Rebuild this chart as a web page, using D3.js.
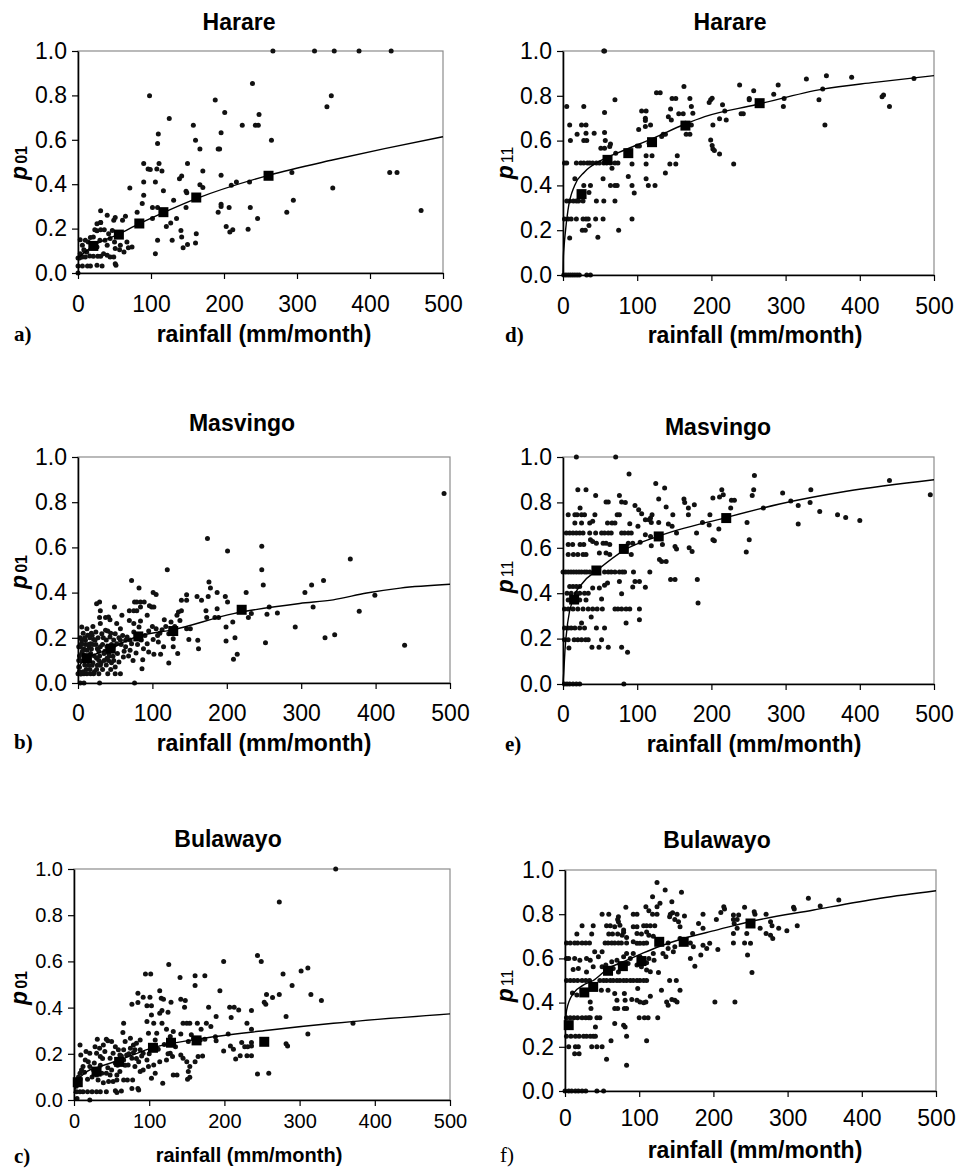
<!DOCTYPE html>
<html>
<head>
<meta charset="utf-8">
<script src="https://cdn.jsdelivr.net/npm/d3@7"></script>
<style>
  body { margin: 0; background: #fff; }
  svg { font-family: "Liberation Sans", Arial, sans-serif; }
  .tick text { fill: #000; }
  .axis path, .axis line { stroke: #000; }
</style>
</head>
<body>
<script>
// ---- data: [rainfall mm/month, probability] ----
var xTicks = [0, 100, 200, 300, 400, 500];
var yTicks = [0, 0.2, 0.4, 0.6, 0.8, 1.0];

// a) Harare p01
var harareP01 = [[267,1],[324,1],[351,1],[385,1],[429,1],[239,.854],[98,.798],[347,.798],[341,.749],[188,.779],[201,.723],[248,.714],[125,.696],[225,.666],[243,.666],[247,.666],[158,.666],[110,.626],[196,.632],[161,.598],[265,.598],[109,.583],[167,.558],[192,.558],[194,.558],[90,.493],[111,.493],[150,.493],[96,.468],[99,.466],[108,.468],[115,.46],[171,.46],[196,.44],[293,.453],[427,.453],[437,.453],[106,.41],[90,.41],[167,.398],[171,.385],[142,.437],[139,.425],[349,.383],[71,.383],[210,.395],[217,.41],[117,.37],[148,.368],[149,.361],[235,.41],[295,.328],[90,.35],[131,.328],[196,.31],[196,.3],[88,.313],[102,.295],[109,.295],[148,.295],[207,.295],[236,.295],[286,.274],[192,.274],[470,.281],[31,.28],[81,.274],[102,.245],[135,.245],[246,.245],[65,.256],[40,.26],[49,.238],[51,.25],[61,.238],[31,.227],[162,.177],[121,.21],[127,.225],[203,.21],[212,.195],[208,.185],[233,.197],[141,.192],[142,.162],[109,.147],[129,.147],[150,.128],[144,.114],[161,.135],[106,.087],[52,.035],[51,.042],[74,.117],[67,.14],[69,.114],[63,.095],[51,.11],[50,.14],[44,.155],[37,.147],[40,.125],[26,.19],[31,.195],[36,.195],[23,.195],[26,.222],[31,.227],[17,.16],[10,.147],[21,.162],[14,.14],[6,.125],[3,.15],[8,.105],[12,.095],[16,.077],[21,.075],[27,.075],[31,.075],[6,.072],[10,.072],[3,.072],[0,.068],[2,.068],[0,.032],[6,.032],[13,.032],[17,.032],[26,.035],[33,.032],[3,.087],[9,.1],[0,0],[19,.125],[26,.117],[30,.147],[42,.177],[47,.192],[58,.177],[35,.087],[44,.072],[49,.072],[40,.08],[58,.125],[57,.105]];
var harareP01Means = [[21,.122],[56,.173],[84,.223],[117,.274],[162,.34],[261,.438]];
var harareP01Fit = [[0,.068],[21,.122],[56,.175],[84,.222],[117,.272],[162,.335],[261,.44],[350,.51],[420,.56],[500,.614]];

// d) Harare p11
var harareP11 = [[55,1],[56,1],[355,.89],[389,.883],[473,.877],[328,.875],[238,.848],[290,.848],[350,.83],[257,.822],[163,.841],[126,.814],[131,.814],[284,.807],[432,.804],[430,.796],[251,.788],[251,.782],[147,.788],[152,.788],[171,.788],[199,.782],[201,.789],[197,.77],[298,.788],[345,.782],[266,.76],[70,.782],[5,.752],[28,.752],[297,.752],[440,.752],[173,.752],[215,.76],[145,.741],[112,.732],[106,.732],[218,.732],[240,.72],[243,.72],[56,.725],[156,.72],[162,.72],[175,.722],[142,.707],[111,.7],[211,.697],[220,.692],[146,.692],[165,.678],[202,.67],[353,.67],[111,.69],[9,.67],[25,.67],[31,.67],[118,.67],[111,.663],[173,.67],[102,.65],[166,.628],[171,.628],[135,.628],[138,.628],[19,.628],[31,.633],[42,.633],[56,.636],[10,.6],[28,.6],[32,.6],[57,.6],[133,.618],[116,.588],[64,.585],[100,.576],[103,.576],[199,.603],[201,.578],[202,.562],[204,.556],[211,.54],[51,.566],[56,.566],[63,.574],[71,.544],[112,.532],[120,.532],[154,.532],[2,.5],[5,.5],[18,.5],[24,.5],[28,.5],[33,.5],[36,.5],[40,.5],[45,.5],[49,.5],[55,.5],[59,.5],[64,.5],[70,.5],[74,.5],[144,.496],[152,.496],[93,.496],[112,.496],[230,.496],[66,.477],[138,.455],[88,.44],[112,.43],[54,.43],[16,.43],[64,.4],[70,.4],[73,.4],[93,.4],[115,.4],[124,.4],[28,.4],[37,.4],[96,.366],[35,.368],[5,.33],[9,.33],[14,.33],[18,.33],[21,.33],[27,.33],[45,.33],[55,.33],[70,.33],[2,.25],[7,.25],[11,.25],[18,.25],[27,.25],[31,.25],[34,.25],[44,.25],[54,.25],[93,.25],[35,.221],[26,.2],[30,.2],[75,.2],[9,.165],[47,.168],[1,0],[4,0],[7,0],[10,0],[13,0],[16,0],[19,0],[22,0],[32,0],[37,0]];
var harareP11Means = [[25,.361],[60,.514],[88,.544],[120,.593],[165,.667],[265,.767]];
var harareP11Fit = [[0,0],[0.5,.08],[1.5,.13],[3,.186],[6.7,.29],[15.7,.4],[29,.46],[52,.513],[83,.558],[119,.607],[164,.673],[191,.707],[260,.76],[350,.83],[420,.86],[500,.89]];

// b) Masvingo p01
var masvingoP01 = [[492,.838],[174,.639],[247,.605],[201,.584],[366,.549],[120,.501],[247,.501],[72,.454],[330,.454],[176,.447],[249,.434],[314,.434],[82,.42],[178,.42],[101,.4],[187,.4],[226,.4],[305,.4],[399,.388],[146,.39],[160,.383],[175,.383],[198,.383],[105,.392],[166,.366],[139,.366],[146,.366],[201,.358],[378,.317],[316,.336],[257,.336],[268,.31],[254,.304],[49,.336],[84,.358],[89,.358],[76,.358],[79,.358],[96,.342],[84,.336],[99,.336],[102,.336],[69,.32],[75,.32],[79,.32],[93,.3],[29,.358],[30,.32],[29,.29],[37,.29],[43,.28],[25,.351],[59,.3],[116,.28],[133,.3],[137,.277],[135,.314],[139,.32],[172,.32],[187,.329],[184,.29],[189,.29],[173,.29],[208,.27],[199,.248],[229,.29],[233,.307],[292,.248],[332,.2],[345,.214],[439,.167],[252,.178],[211,.2],[199,.186],[214,.127],[209,.105],[111,.127],[122,.088],[134,.13],[102,.127],[87,.103],[86,.063],[76,0],[29,0],[3,0],[8,0],[162,.152],[161,.189],[149,.192],[146,.24],[151,.24],[128,.196],[128,.16],[115,.16],[122,.218],[113,.236],[107,.21],[101,.192],[93,.174],[108,.181],[88,.152],[95,.137],[78,.133],[72,.174],[75,.226],[66,.204],[82,.248],[75,.263],[84,.274],[69,.277],[64,.16],[61,.115],[55,.093],[50,.071],[57,.041],[50,.041],[40,.041],[28,.041],[21,.041],[17,.041],[12,.041],[8,.041],[3,.041],[0,.041],[30,.078],[26,.078],[19,.078],[14,.078],[35,.1],[41,.1],[48,.1],[35,.13],[41,.133],[47,.118],[26,.152],[30,.16],[52,.174],[57,.189],[43,.204],[50,.218],[32,.218],[37,.233],[21,.192],[17,.174],[10,.189],[5,.174],[3,.16],[12,.145],[17,.13],[8,.122],[3,.1],[1,.071],[5,.248],[12,.24],[24,.226],[13,.211],[19,.211],[39,.16],[46,.145],[64,.189],[70,.145],[30,.263],[41,.292],[57,.24],[52,.263],[2,.12],[5,.13],[8,.15],[10,.17],[15,.16],[20,.17],[22,.12],[25,.11],[28,.14],[33,.17],[38,.19],[45,.17],[5,.19],[9,.08],[15,.1],[20,.09],[25,.06],[33,.06],[38,.08],[45,.09],[1,.16],[3,.2],[7,.22],[16,.2],[27,.2],[34,.2],[44,.22],[48,.19],[55,.2],[60,.21],[62,.14],[68,.12],[70,.19],[74,.1],[80,.17],[85,.19],[90,.21],[95,.23],[100,.25],[105,.24],[110,.22],[118,.25],[125,.27],[130,.25],[20,.25],[40,.23],[2,.07],[4,.04],[7,.05],[6,.14],[11,.11],[14,.17],[18,.15],[24,.17],[29,.12],[31,.09],[36,.14],[42,.12],[47,.16],[53,.13],[58,.17],[1,.1],[4,.17],[9,.2],[18,.22],[23,.19],[2,.05],[11,.06],[16,.06],[22,.05],[28,.1],[39,.11],[44,.06]];
var masvingoP01Means = [[12,.11],[44,.152],[81,.206],[128,.23],[220,.324]];
var masvingoP01Fit = [[0,.05],[2,.075],[10,.105],[25,.13],[44,.152],[64,.185],[82,.208],[127,.235],[209,.307],[298,.352],[343,.368],[388,.398],[433,.42],[500,.437]];

// e) Masvingo p11
var masvingoP11 = [[18,1],[71,1],[89,.925],[440,.896],[258,.918],[20,.856],[31,.856],[125,.883],[137,.863],[214,.856],[257,.856],[334,.856],[296,.841],[44,.83],[76,.83],[129,.815],[202,.819],[211,.824],[216,.834],[255,.83],[495,.834],[307,.806],[58,.802],[61,.802],[84,.8],[79,.802],[163,.815],[164,.8],[177,.79],[227,.809],[231,.809],[23,.775],[97,.786],[139,.78],[169,.775],[317,.786],[333,.8],[270,.775],[226,.775],[7,.746],[16,.746],[19,.746],[25,.746],[29,.746],[43,.746],[73,.746],[76,.746],[102,.768],[106,.75],[120,.746],[118,.731],[148,.746],[169,.746],[198,.746],[346,.76],[370,.746],[381,.734],[400,.72],[317,.705],[248,.712],[16,.709],[25,.709],[36,.709],[40,.717],[60,.709],[66,.709],[70,.709],[111,.724],[116,.724],[119,.712],[129,.712],[142,.705],[147,.695],[188,.712],[197,.7],[210,.683],[101,.695],[90,.706],[4.5,.665],[9,.665],[13.5,.665],[18,.665],[22.5,.665],[27,.665],[36,.665],[44,.665],[52,.665],[56,.665],[61,.665],[65,.665],[79,.665],[83,.665],[88,.665],[92,.665],[111,.658],[118,.65],[153,.665],[180,.665],[202,.636],[204,.631],[251,.636],[37,.636],[40,.628],[45,.62],[54,.62],[58,.62],[63,.614],[88,.62],[94,.62],[104,.624],[119,.609],[134,.614],[151,.606],[153,.595],[170,.6],[174,.584],[7,.614],[13,.614],[23,.614],[28,.614],[7,.57],[14,.57],[20,.57],[27,.57],[31,.57],[49,.577],[58,.577],[63,.57],[92,.57],[130,.548],[133,.54],[139,.54],[247,.581],[0,.493],[3.6,.493],[7.2,.493],[10.8,.493],[14.4,.493],[18,.493],[21.6,.493],[25,.493],[29,.493],[32,.493],[36,.493],[56,.493],[61,.493],[65,.493],[70,.493],[76,.493],[80,.493],[83,.493],[95,.493],[117,.493],[76,.452],[97,.452],[103,.452],[111,.426],[145,.46],[151,.46],[181,.46],[182,.357],[94,.427],[56,.435],[60,.445],[52,.374],[9,.43],[13.5,.43],[18,.43],[22.5,.43],[5.4,.4],[11,.4],[18,.4],[22.5,.4],[29,.4],[34,.4],[40,.423],[49,.423],[79,.398],[7,.37],[15,.37],[22.5,.37],[31,.37],[2,.33],[7,.33],[13.5,.33],[20,.33],[27,.33],[34,.33],[40,.33],[46,.33],[53,.33],[70,.33],[74,.33],[79,.33],[85,.33],[90,.33],[103,.33],[38,.295],[103,.283],[85,.269],[2,.247],[7,.247],[11,.247],[16,.247],[22.5,.247],[29,.247],[45,.247],[56,.247],[25,.269],[2,.195],[7,.195],[15,.195],[20,.195],[25,.195],[30.5,.195],[34,.195],[52,.195],[8,.159],[39,.162],[48.5,.162],[61,.162],[79,.162],[87,.14],[2,0],[5.4,0],[9,0],[13.5,0],[18,0],[22.5,0],[82,0]];
var masvingoP11Means = [[15,.372],[45,.5],[82,.595],[129,.65],[220,.731]];
var masvingoP11Fit = [[0,0],[1,.05],[2.7,.15],[6.3,.27],[13,.37],[26.5,.445],[46.8,.503],[82.7,.59],[127.6,.65],[218,.732],[292,.793],[382,.849],[500,.9]];

// c) Bulawayo p01
var bulawayoP01 = [[348,1],[273,.857],[244,.626],[249,.6],[199,.6],[126,.587],[311,.571],[302,.558],[278,.545],[95,.545],[102,.545],[161,.538],[174,.538],[141,.53],[290,.496],[161,.496],[85,.462],[114,.473],[315,.457],[256,.457],[273,.457],[264,.444],[329,.431],[194,.473],[142,.436],[148,.431],[92,.445],[101,.445],[116,.44],[119,.436],[129,.423],[147,.402],[179,.402],[207,.402],[213,.402],[219,.39],[236,.387],[209,.357],[253,.423],[255,.415],[282,.361],[189,.361],[85,.422],[77,.415],[97,.408],[103,.408],[117,.387],[114,.376],[103,.368],[125,.38],[117,.332],[66,.332],[97,.34],[106,.332],[145,.332],[150,.332],[154,.332],[164,.332],[176,.332],[182,.318],[205,.286],[311,.286],[371,.332],[169,.306],[230,.332],[236,.306],[188,.274],[189,.256],[142,.286],[168,.26],[174,.263],[156,.282],[159,.267],[152,.253],[132,.296],[128,.275],[123,.306],[110,.289],[108,.26],[99,.289],[88,.26],[208,.234],[212,.22],[223,.249],[227,.231],[231,.231],[236,.249],[236,.234],[221,.192],[230,.192],[236,.192],[282,.243],[284,.234],[215,.178],[199,.212],[244,.113],[259,.116],[142,.195],[145,.181],[150,.166],[154,.145],[152,.123],[154,.098],[151,.09],[161,.166],[165,.188],[171,.191],[132,.108],[137,.108],[118,.072],[103,.094],[108,.116],[99,.145],[106,.152],[114,.166],[123,.173],[128,.202],[131,.188],[88,.123],[92,.13],[81,.145],[86,.166],[77,.181],[79,.205],[70,.195],[66,.217],[61,.166],[55,.159],[61,.123],[57,.108],[71,.087],[78,.087],[77,.05],[85,.05],[86,.043],[63,.039],[55,.04],[57,.033],[66,.087],[57,.087],[52,.08],[43,.036],[35,.036],[30,.036],[24,.036],[18,.036],[12,.036],[8,.036],[3.5,.036],[46,.08],[39,.075],[32,.087],[48,.108],[43,.116],[37,.116],[30,.108],[26,.13],[21,.145],[19,.166],[15,.173],[12,.145],[8,.116],[6,.087],[9,.195],[16,.21],[21,.202],[30,.202],[35,.188],[41,.21],[28,.231],[34,.224],[39,.238],[43,.263],[45,.256],[31,.263],[50,.253],[55,.231],[65,.292],[59,.217],[52,.202],[48,.181],[61,.195],[66,.173],[72,.152],[79,.238],[83,.246],[75,.267],[68,.253],[75,.224],[81,.217],[88,.217],[92,.202],[97,.173],[8,.09],[4,.007],[21,0],[8,.238],[3,.06],[6,.1],[10,.13],[14,.12],[18,.09],[24,.1],[27,.16],[35,.15],[38,.18],[45,.14],[50,.13],[58,.15],[63,.19],[68,.15],[73,.2],[83,.18],[90,.19],[100,.2],[105,.23],[112,.22],[120,.24],[125,.2],[135,.23]];
var bulawayoP01Means = [[5,.077],[30,.123],[60,.165],[105,.226],[129,.248],[163,.258],[253,.252]];
var bulawayoP01Fit = [[0,.03],[5,.08],[18,.125],[30,.14],[60,.172],[106,.228],[163,.263],[258,.302],[345,.332],[500,.373]];

// f) Bulawayo p11
var bulawayoP11 = [[124,.943],[135,.909],[157,.899],[118,.879],[328,.872],[369,.864],[128,.849],[144,.856],[344,.837],[109,.834],[124,.834],[82,.831],[113,.816],[308,.831],[309,.823],[242,.831],[214,.834],[215,.823],[145,.807],[50,.8],[59,.8],[92,.8],[97,.8],[118,.8],[124,.8],[142,.8],[151,.8],[141,.789],[148,.776],[153,.766],[161,.792],[186,.8],[204,.776],[210,.808],[227,.796],[234,.796],[227,.776],[232,.776],[255,.811],[256,.8],[271,.8],[72,.789],[71,.776],[72,.766],[74,.75],[56,.748],[61,.748],[67,.743],[79,.728],[79,.718],[92,.743],[97,.743],[106,.748],[110,.748],[115,.748],[121,.748],[155,.743],[180,.758],[186,.736],[228,.758],[232,.736],[263,.736],[277,.766],[279,.748],[288,.736],[299,.725],[313,.748],[23,.748],[38,.748],[36,.71],[16,.71],[59,.71],[64,.71],[71,.71],[77,.705],[83,.695],[97,.713],[103,.71],[110,.72],[113,.705],[119,.7],[172,.713],[271,.713],[277,.705],[280,.69],[227,.713],[227,.67],[245,.713],[2,.67],[7,.67],[13,.67],[17,.67],[23,.67],[28,.67],[33,.67],[54,.67],[58,.67],[63,.67],[67,.67],[72,.67],[76,.67],[83,.67],[92,.675],[97,.668],[101,.668],[106,.668],[110,.67],[139,.67],[148,.653],[155,.69],[160,.683],[169,.67],[173,.653],[186,.66],[191,.645],[195,.668],[183,.615],[206,.64],[242,.67],[246,.615],[250,.668],[169,.6],[175,.565],[139,.645],[146,.63],[132,.622],[136,.607],[119,.622],[120,.592],[113,.6],[101,.607],[106,.592],[110,.58],[92,.622],[88,.6],[85,.577],[97,.57],[103,.562],[110,.547],[115,.54],[2,.6],[5,.6],[13,.6],[20,.592],[29,.6],[34,.592],[40,.63],[45,.607],[50,.63],[38,.562],[50,.562],[55,.57],[63,.585],[70,.592],[74,.574],[79,.607],[83,.622],[65,.554],[72,.539],[11,.55],[18,.554],[29,.539],[2,.5],[7,.5],[12,.5],[17,.5],[23,.5],[28,.5],[33,.5],[47,.5],[52,.5],[56,.5],[61,.5],[65,.5],[70,.5],[74,.5],[79,.5],[83,.5],[88,.5],[92,.5],[97,.5],[101,.5],[106,.5],[110,.5],[141,.5],[150,.5],[49,.456],[58,.456],[98,.464],[130,.456],[155,.456],[10,.444],[16,.434],[25,.444],[34,.403],[35,.373],[67,.441],[70,.411],[80,.441],[81,.411],[90,.414],[97,.411],[101,.403],[106,.399],[109,.403],[115,.429],[137,.403],[139,.388],[144,.414],[148,.411],[151,.403],[202,.403],[229,.403],[67,.373],[71,.373],[80,.373],[83,.373],[100,.331],[107,.331],[112,.331],[125,.331],[2,.331],[7,.331],[12,.331],[17,.331],[23,.331],[28,.331],[32,.331],[34,.331],[43,.331],[47,.331],[67,.305],[79,.298],[81,.29],[41,.29],[2,.248],[8,.248],[14,.248],[19,.248],[25,.248],[29,.248],[34,.248],[38,.248],[41,.248],[83,.248],[62,.227],[110,.227],[5,.2],[14,.2],[18,.2],[36,.2],[43,.2],[50,.2],[13,.169],[19,.169],[56,.144],[83,.116],[0,0],[5,0],[9,0],[14,0],[18,0],[23,0],[28,0],[43,0],[52,0],[126,.536],[252,.536]];
var bulawayoP11Means = [[5,.298],[26,.446],[38,.471],[58,.544],[78,.565],[103,.588],[127,.675],[160,.675],[250,.758]];
var bulawayoP11Fit = [[0,.3],[1,.33],[2.2,.366],[11,.441],[24.7,.479],[38,.5],[58,.554],[78.6,.585],[105.6,.625],[128,.655],[159.5,.69],[204,.728],[249,.766],[335,.819],[425,.872],[500,.906]];

// ---- layout (pixels) ----
var panels = [
  {letter: "a)", bold: true, title: "Harare", sub: "01", subBold: true, pts: harareP01, means: harareP01Means, fit: harareP01Fit,
   left: 78, right: 443, top: 51, bottom: 273, titleX: 239, titleY: 30, xlabX: 264, xlabY: 342, letX: 14, letY: 341, ylabX: 27, ylabY: 163, fs: 23, xfs: 23, xPad: 17},
  {letter: "d)", bold: true, title: "Harare", sub: "11", subBold: false, pts: harareP11, means: harareP11Means, fit: harareP11Fit,
   left: 563, right: 934, top: 51, bottom: 275, titleX: 730, titleY: 30, xlabX: 755, xlabY: 343, letX: 505, letY: 342, ylabX: 513, ylabY: 163, fs: 23, xfs: 23, xPad: 17},
  {letter: "b)", bold: true, title: "Masvingo", sub: "01", subBold: true, pts: masvingoP01, means: masvingoP01Means, fit: masvingoP01Fit,
   left: 78, right: 450, top: 457, bottom: 683, titleX: 242, titleY: 431, xlabX: 264, xlabY: 751, letX: 14, letY: 749, ylabX: 27, ylabY: 572, fs: 23, xfs: 23, xPad: 16},
  {letter: "e)", bold: true, title: "Masvingo", sub: "11", subBold: false, pts: masvingoP11, means: masvingoP11Means, fit: masvingoP11Fit,
   left: 563, right: 934, top: 457, bottom: 684, titleX: 718, titleY: 435, xlabX: 754, xlabY: 752, letX: 505, letY: 751, ylabX: 513, ylabY: 577, fs: 23, xfs: 23, xPad: 16},
  {letter: "c)", bold: true, title: "Bulawayo", sub: "01", subBold: true, pts: bulawayoP01, means: bulawayoP01Means, fit: bulawayoP01Fit,
   left: 74, right: 450, top: 869, bottom: 1100, titleX: 228, titleY: 847, xlabX: 249, xlabY: 1162, letX: 14, letY: 1163, ylabX: 27, ylabY: 988, fs: 20, xfs: 20, xPad: 8},
  {letter: "f)", bold: false, title: "Bulawayo", sub: "11", subBold: false, pts: bulawayoP11, means: bulawayoP11Means, fit: bulawayoP11Fit,
   left: 565, right: 936, top: 870, bottom: 1091, titleX: 717, titleY: 848, xlabX: 755, xlabY: 1158, letX: 500, letY: 1162, ylabX: 513, ylabY: 986, fs: 23, xfs: 23, xPad: 13}
];

var svg = d3.select("body").append("svg")
    .attr("width", 965)
    .attr("height", 1171);

panels.forEach(function (p) {
    var x = d3.scaleLinear().domain([0, 500]).range([p.left, p.right]);
    var y = d3.scaleLinear().domain([0, 1]).range([p.bottom, p.top]);
    var g = svg.append("g");

    // grey plot frame (top / right)
    g.append("rect")
        .attr("x", p.left).attr("y", p.top)
        .attr("width", p.right - p.left).attr("height", p.bottom - p.top)
        .attr("fill", "none").attr("stroke", "#8c8c8c").attr("stroke-width", 1.2);

    g.selectAll("circle.pt").data(p.pts).enter()
        .append("circle").attr("class", "pt")
        .attr("cx", function (d) { return x(d[0]); })
        .attr("cy", function (d) { return y(d[1]); })
        .attr("r", 2.5)
        .attr("fill", "#111");

    var line = d3.line()
        .x(function (d) { return x(d[0]); })
        .y(function (d) { return y(d[1]); })
        .curve(d3.curveMonotoneX);
    g.append("path").datum(p.fit)
        .attr("d", line)
        .attr("fill", "none").attr("stroke", "#000").attr("stroke-width", 1.4);

    g.selectAll("rect.mean").data(p.means).enter()
        .append("rect").attr("class", "mean")
        .attr("x", function (d) { return x(d[0]) - 5; })
        .attr("y", function (d) { return y(d[1]) - 5; })
        .attr("width", 10).attr("height", 10)
        .attr("fill", "#000");

    // axes
    var yAxis = d3.axisLeft(y).tickValues(yTicks).tickFormat(d3.format(".1f"))
        .tickSize(6).tickSizeOuter(0).tickPadding(5);
    var xAxis = d3.axisBottom(x).tickValues(xTicks).tickFormat(d3.format("d"))
        .tickSize(6).tickSizeOuter(0).tickPadding(p.xPad);

    g.append("g").attr("class", "axis")
        .attr("transform", "translate(" + p.left + ",0)")
        .call(yAxis)
        .call(function (a) {
            a.selectAll("text").attr("font-size", p.fs).attr("font-family", null);
            a.select(".domain").attr("stroke-width", 1.6);
            a.selectAll(".tick line").attr("stroke-width", 1.2);
        });
    g.append("g").attr("class", "axis")
        .attr("transform", "translate(0," + p.bottom + ")")
        .call(xAxis)
        .call(function (a) {
            a.selectAll("text").attr("font-size", p.fs).attr("font-family", null);
            a.select(".domain").attr("stroke-width", 1.6);
            a.selectAll(".tick line").attr("stroke-width", 1.2);
        });

    // titles and labels
    g.append("text")
        .attr("x", p.titleX).attr("y", p.titleY)
        .attr("text-anchor", "middle")
        .attr("font-size", 23).attr("font-weight", "bold")
        .text(p.title);

    g.append("text")
        .attr("x", p.xlabX).attr("y", p.xlabY)
        .attr("text-anchor", "middle")
        .attr("font-size", p.xfs).attr("font-weight", "bold")
        .text("rainfall (mm/month)");

    g.append("text")
        .attr("x", p.letX).attr("y", p.letY)
        .attr("font-family", "'Liberation Serif', 'Times New Roman', serif")
        .attr("font-size", 21)
        .attr("font-weight", p.bold ? "bold" : "normal")
        .text(p.letter);

    var yl = g.append("text")
        .attr("transform", "translate(" + p.ylabX + "," + p.ylabY + ") rotate(-90)")
        .attr("text-anchor", "middle");
    yl.append("tspan")
        .attr("font-size", 23).attr("font-weight", "bold").attr("font-style", "italic")
        .text("p");
    yl.append("tspan")
        .attr("dx", 2)
        .attr("font-size", 16).attr("font-weight", p.subBold ? "bold" : "normal")
        .text(p.sub);
});
</script>
</body>
</html>
